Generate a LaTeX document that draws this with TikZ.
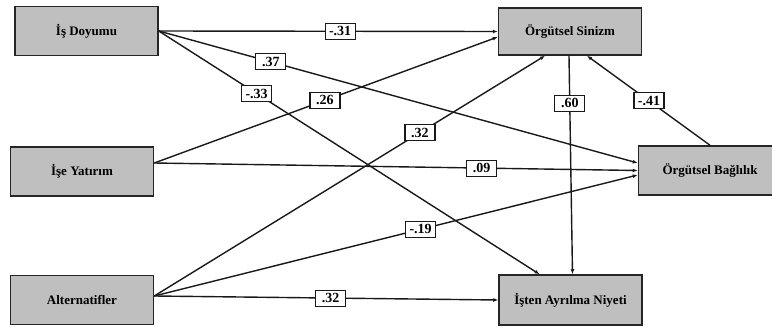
\documentclass[tikz,border=0pt]{standalone}
\usepackage{fontspec}
\setmainfont{Liberation Serif}
\usetikzlibrary{arrows.meta,calc}
\tikzset{
  varbox/.style={draw=black!85, line width=1.5pt, fill=black!25, minimum width=143pt, minimum height=49pt, inner sep=0pt, font=\fontsize{13}{15}\selectfont\bfseries},
  coef/.style={draw=black!90, line width=1.1pt, fill=white, minimum width=30pt, minimum height=16pt, inner sep=1pt, font=\fontsize{14}{16}\selectfont\bfseries},
  path/.style={line width=1.4pt, draw=black!90, -{Latex[length=5pt,width=4pt]}}
}
\begin{document}
\begin{tikzpicture}[x=1pt,y=-1pt]
\useasboundingbox (0,0) rectangle (772,329);
\node[varbox] (isd) at (86.5,31) {İş Doyumu};
\node[varbox] (isy) at (82,171.5) {İşe Yatırım};
\node[varbox] (alt) at (82,300) {Alternatifler};
\node[varbox, minimum height=47pt] (sin) at (570,31.5) {Örgütsel Sinizm};
\node[varbox] (bag) at (710,170.5) {Örgütsel Bağlılık};
\node[varbox, minimum height=50pt] (ayr) at (570.5,300) {İşten Ayrılma Niyeti};

\draw[path] (isd.east) -- node[coef, pos=0.535] (c1) {-.31} (sin.west);
\draw[path] (isd.east) -- node[coef, pos=0.234] (c2) {.37} ([yshift=7.5pt]bag.west);
\draw[path] (isd.east) -- node[coef, pos=0.257] (c3) {-.33} ([xshift=-31pt]ayr.north);
\draw[path] ([yshift=8.5pt]isy.east) -- node[coef, pos=0.497] (c4) {.26} ([yshift=-5.5pt]sin.west);
\draw[path] ([yshift=8.5pt]isy.east) -- node[coef, pos=0.677] (c5) {.09} (bag.west);
\draw[path] ([yshift=4pt]alt.east) -- node[coef, pos=0.68] (c6) {.32} ([xshift=-25pt]sin.south);
\draw[path] ([yshift=4pt]alt.east) -- node[coef, pos=0.551] (c7) {-.19} ([yshift=-4.5pt]bag.west);
\draw[path] ([yshift=4pt]alt.east) -- node[coef, pos=0.513] (c8) {.32} (ayr.west);
\draw[path] ([xshift=-1pt]sin.south) -- node[coef, pos=0.217] (c9) {.60} ([xshift=2pt]ayr.north);
\draw[path] (bag.north) -- node[coef, pos=0.496] (c10) {-.41} ([xshift=17pt]sin.south);
\end{tikzpicture}
\end{document}
